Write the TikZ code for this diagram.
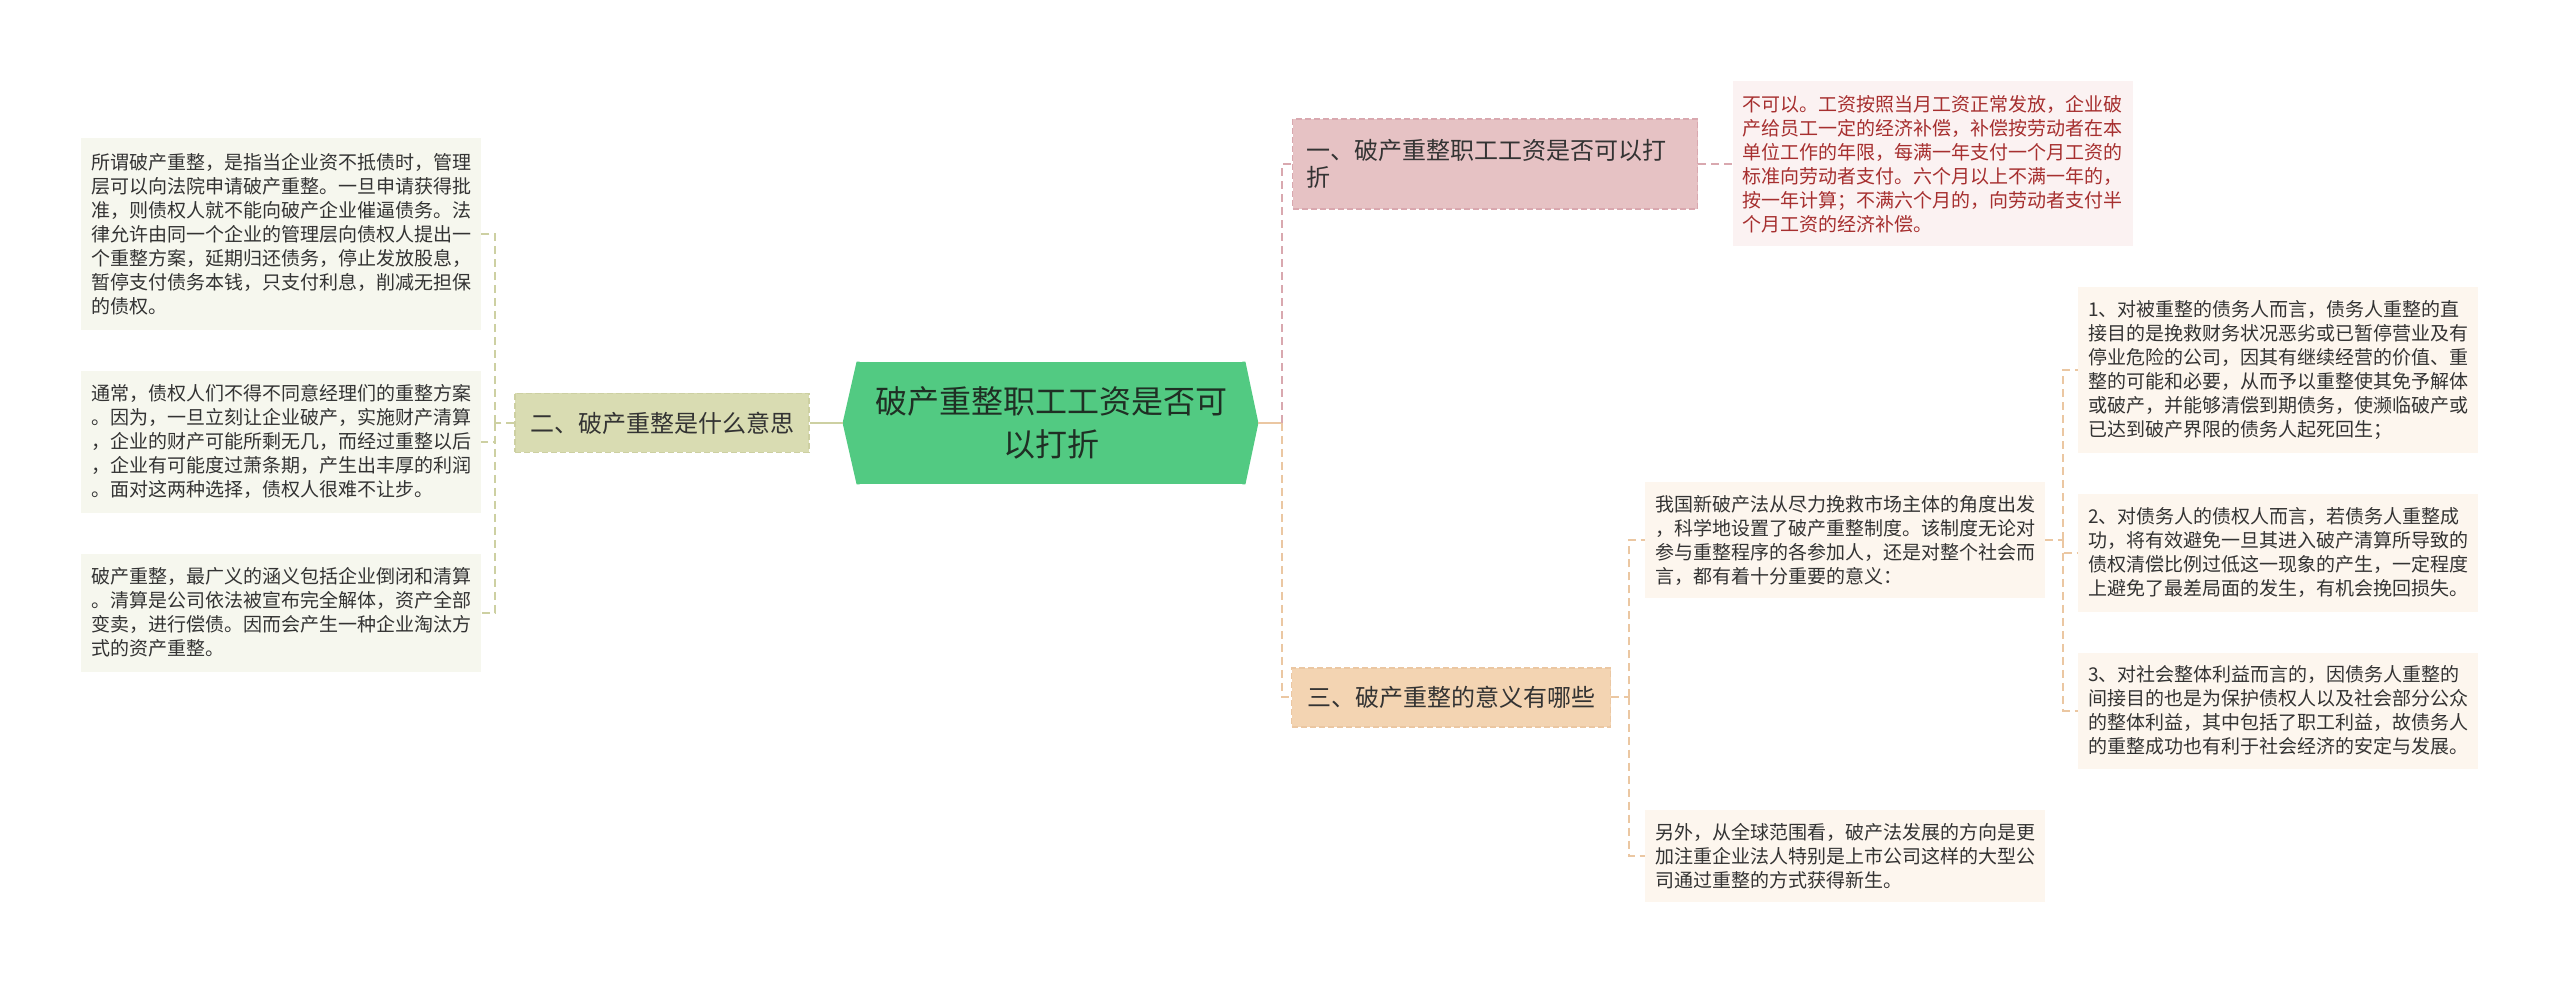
\documentclass[tikz,border=0pt]{standalone}
\usepackage{fontspec}
\setmainfont{Noto Sans CJK SC}
\usepackage{tikz}
\usetikzlibrary{positioning,calc}
\definecolor{topicgreen}{HTML}{52CA82}
\definecolor{topictext}{HTML}{1F2F24}
\definecolor{textgray}{HTML}{333333}
\definecolor{wagepink}{HTML}{E6C2C4}
\definecolor{wageline}{HTML}{D9A8AF}
\definecolor{wageleaf}{HTML}{FBF2F2}
\definecolor{wagered}{HTML}{A62F2F}
\definecolor{meanolive}{HTML}{D9DCB2}
\definecolor{meanline}{HTML}{CDD0A2}
\definecolor{meanleaf}{HTML}{F6F7EE}
\definecolor{valuepeach}{HTML}{F3D4B2}
\definecolor{valueline}{HTML}{EBC7A2}
\definecolor{valueleaf}{HTML}{FDF6EE}

\begin{document}
\begin{tikzpicture}[x=0.5pt,y=-0.5pt,node distance=20pt and 17pt,
 topic/.style={fill=topicgreen,text=topictext,minimum width=194pt,minimum height=61pt,align=center,inner sep=0pt,font=\fontsize{16pt}{21.5pt}\selectfont},
 branch/.style={draw,dashed,dash pattern=on 3pt off 1.5pt,line width=0.6pt,text=textgray,minimum height=29.5pt,inner xsep=7pt,inner ysep=0pt,font=\fontsize{12pt}{13.5pt}\selectfont},
 leaf/.style={text=textgray,text width=190pt,align=left,inner xsep=5pt,inner ysep=0pt,font=\fontsize{9.5pt}{12pt}\selectfont},
 link/.style={dashed,dash pattern=on 4pt off 2.5pt,line width=1pt}]
\useasboundingbox[fill=white] (0,0) rectangle (2560,983);
\node[leaf,fill=meanleaf,minimum height=96pt] (mean1) at (281,234) {所谓破产重整，是指当企业资不抵债时，管理\\层可以向法院申请破产重整。一旦申请获得批\\准，则债权人就不能向破产企业催逼债务。法\\律允许由同一个企业的管理层向债权人提出一\\个重整方案，延期归还债务，停止发放股息，\\暂停支付债务本钱，只支付利息，削减无担保\\的债权。};
\node[leaf,fill=meanleaf,minimum height=71pt,below=of mean1] (mean2) {通常，债权人们不得不同意经理们的重整方案\\。因为，一旦立刻让企业破产，实施财产清算\\，企业的财产可能所剩无几，而经过重整以后\\，企业有可能度过萧条期，产生出丰厚的利润\\。面对这两种选择，债权人很难不让步。};
\node[leaf,fill=meanleaf,minimum height=59pt,below=of mean2] (mean3) {破产重整，最广义的涵义包括企业倒闭和清算\\。清算是公司依法被宣布完全解体，资产全部\\变卖，进行偿债。因而会产生一种企业淘汰方\\式的资产重整。};
\node[topic] (main) at (1051,423) {破产重整职工工资是否可\\以打折};
\node[branch,fill=meanolive,draw=meanline,minimum width=147pt,left=23.5pt of main] (mean) {二、破产重整是什么意思};
\node[branch,fill=wagepink,draw=wageline,minimum width=202.5pt,minimum height=45pt,text width=188.5pt,align=left,anchor=west] (wage) at (1292,164) {一、破产重整职工工资是否可以打\\折};
\node[leaf,fill=wageleaf,text=wagered,minimum height=82.5pt,right=of wage] (wageleaf) {不可以。工资按照当月工资正常发放，企业破\\产给员工一定的经济补偿，补偿按劳动者在本\\单位工作的年限，每满一年支付一个月工资的\\标准向劳动者支付。六个月以上不满一年的，\\按一年计算；不满六个月的，向劳动者支付半\\个月工资的经济补偿。};
\node[branch,fill=valuepeach,draw=valueline,minimum width=159.5pt,anchor=west] (value) at (1291,697.5) {三、破产重整的意义有哪些};
\node[leaf,fill=valueleaf,minimum height=58pt] (value1) at (1845,540) {我国新破产法从尽力挽救市场主体的角度出发\\，科学地设置了破产重整制度。该制度无论对\\参与重整程序的各参加人，还是对整个社会而\\言，都有着十分重要的意义：};
\node[leaf,fill=valueleaf,minimum height=46pt] (value2) at (1845,856) {另外，从全球范围看，破产法发展的方向是更\\加注重企业法人特别是上市公司这样的大型公\\司通过重整的方式获得新生。};
\node[leaf,fill=valueleaf,minimum height=83pt] (effect1) at (2278,370) {1、对被重整的债务人而言，债务人重整的直\\接目的是挽救财务状况恶劣或已暂停营业及有\\停业危险的公司，因其有继续经营的价值、重\\整的可能和必要，从而予以重整使其免予解体\\或破产，并能够清偿到期债务，使濒临破产或\\已达到破产界限的债务人起死回生；};
\node[leaf,fill=valueleaf,minimum height=59pt,below=of effect1] (effect2) {2、对债务人的债权人而言，若债务人重整成\\功，将有效避免一旦其进入破产清算所导致的\\债权清偿比例过低这一现象的产生，一定程度\\上避免了最差局面的发生，有机会挽回损失。};
\node[leaf,fill=valueleaf,minimum height=58pt,below=of effect2] (effect3) {3、对社会整体利益而言的，因债务人重整的\\间接目的也是为保护债权人以及社会部分公众\\的整体利益，其中包括了职工利益，故债务人\\的重整成功也有利于社会经济的安定与发展。};
\coordinate (tipL) at ($(main.west)+(-14,0)$); \coordinate (tipR) at ($(main.east)+(13,0)$);
\fill[topicgreen] ($(main.north west)+(3,0)$) -- (main.north west) -- (tipL) -- (main.south west) -- ($(main.south west)+(3,0)$) -- cycle;
\fill[topicgreen] ($(main.north east)+(-3,0)$) -- (main.north east) -- (tipR) -- (main.south east) -- ($(main.south east)+(-3,0)$) -- cycle;
\coordinate (forkL) at ($(mean.west)+(-19,0)$); \coordinate (forkR) at ($(tipR)+(24,0)$);
\coordinate (forkV) at ($(value.east)+(18,0)$); \coordinate (forkE) at ($(value1.east)+(18,0)$);
\draw[meanline,line width=1pt] (tipL) -- (mean.east);
\draw[link,meanline] (mean.west) -- (forkL); \draw[link,meanline] (forkL) |- (mean1.east); \draw[link,meanline] (forkL) |- (mean2.east); \draw[link,meanline] (forkL) |- (mean3.east);
\draw[valueline,line width=1pt] (tipR) -- (forkR);
\draw[link,wageline] (forkR) |- (wage.west); \draw[link,wageline] (wage.east) -- (wageleaf.west);
\draw[link,valueline] (forkR) |- (value.west);
\draw[link,valueline] (value.east) -- (forkV); \draw[link,valueline] (forkV) |- (value1.west); \draw[link,valueline] (forkV) |- (value2.west);
\draw[link,valueline] (value1.east) -- (forkE); \draw[link,valueline] (forkE) |- (effect1.west); \draw[link,valueline] (forkE) |- (effect2.west); \draw[link,valueline] (forkE) |- (effect3.west);
\end{tikzpicture}
\end{document}
